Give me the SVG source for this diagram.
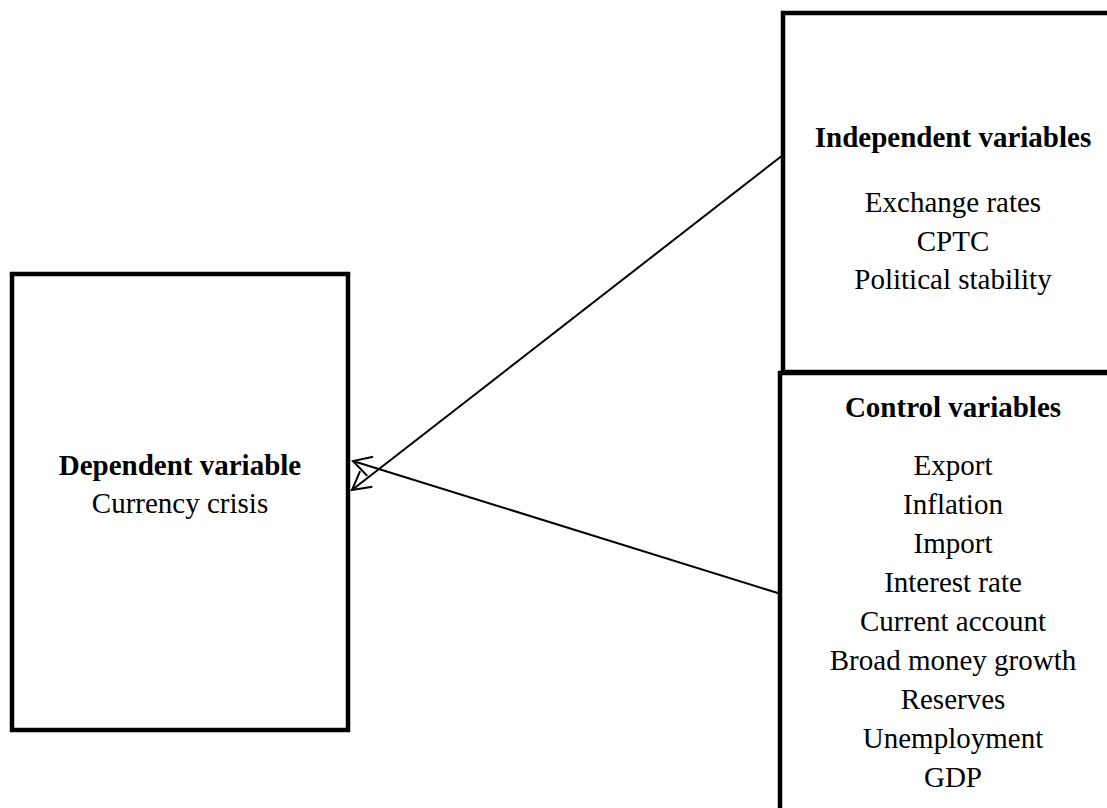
<svg xmlns="http://www.w3.org/2000/svg" width="1107" height="808" viewBox="0 0 1107 808">
<style>
.box{fill:#fff;stroke:#000;stroke-width:4.5}
.t{font-family:"Liberation Serif","Times New Roman",serif;font-size:29px;fill:#000;text-anchor:middle}
.b{font-weight:bold}
.c{fill:none;stroke:#000;stroke-width:2}
</style>
<defs>
<marker id="open" markerUnits="userSpaceOnUse" markerWidth="40" markerHeight="40" refX="0" refY="0" viewBox="-20 -20 40 40" orient="auto" overflow="visible">
<path d="M-18,-10 L0,0 L-18,10" fill="none" stroke="#000" stroke-width="2"/>
</marker>
</defs>
<rect width="1107" height="808" fill="#fff"/>
<g id="dependent">
<rect class="box" x="12" y="274" width="336" height="456"/>
<text class="t b" x="180" y="475">Dependent variable</text>
<text class="t" x="180" y="513">Currency crisis</text>
</g>
<g id="independent">
<rect class="box" x="783" y="13" width="400" height="359"/>
<text class="t b" x="953" y="147">Independent variables</text>
<text class="t" x="953" y="212">Exchange rates</text>
<text class="t" x="953" y="251">CPTC</text>
<text class="t" x="953" y="289">Political stability</text>
</g>
<g id="control">
<rect class="box" x="780" y="373" width="400" height="500"/>
<text class="t b" x="953" y="417">Control variables</text>
<text class="t" x="953" y="475">Export</text>
<text class="t" x="953" y="514">Inflation</text>
<text class="t" x="953" y="553">Import</text>
<text class="t" x="953" y="592">Interest rate</text>
<text class="t" x="953" y="631">Current account</text>
<text class="t" x="953" y="670">Broad money growth</text>
<text class="t" x="953" y="709">Reserves</text>
<text class="t" x="953" y="748">Unemployment</text>
<text class="t" x="953" y="787">GDP</text>
</g>
<g id="connectors">
<line class="c" x1="783" y1="155" x2="352" y2="490" marker-end="url(#open)"/>
<line class="c" x1="781" y1="594" x2="353" y2="461" marker-end="url(#open)"/>
</g>
</svg>
